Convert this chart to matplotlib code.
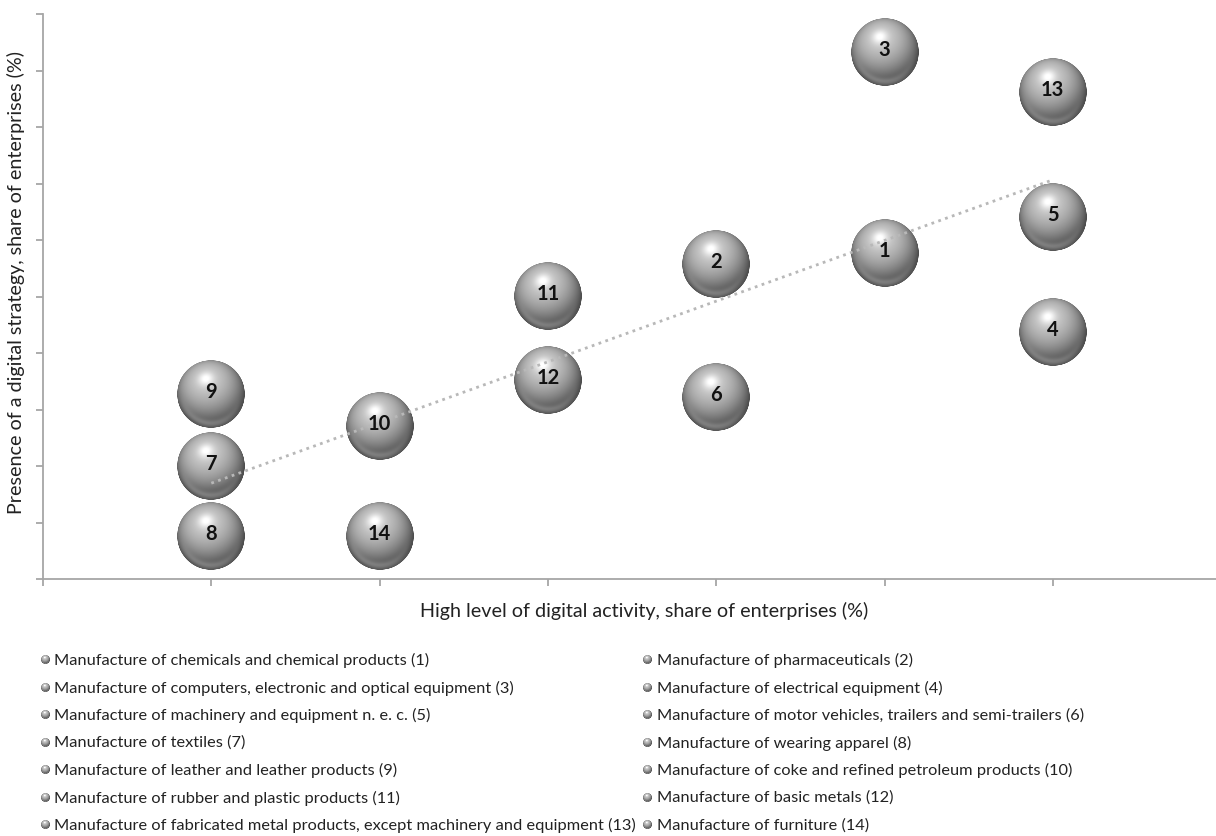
import numpy as np
import matplotlib
matplotlib.use("Agg")
import matplotlib.pyplot as plt
from matplotlib.offsetbox import OffsetImage, AnnotationBbox

plt.rcParams['font.family'] = ['Lato', 'DejaVu Sans']

# ---------------- data ----------------
ids = [1, 2, 3, 4, 5, 6, 7, 8, 9, 10, 11, 12, 13, 14]
digital_activity = [5, 4, 5, 6, 6, 4, 1, 1, 1, 2, 3, 3, 6, 2]
digital_strategy = [5.77, 5.58, 9.33, 4.37, 6.41, 3.22, 2.00, 0.76, 3.27, 2.71, 5.01, 3.52, 8.62, 0.76]
names = [
    "Manufacture of chemicals and chemical products (1)",
    "Manufacture of pharmaceuticals (2)",
    "Manufacture of computers, electronic and optical equipment (3)",
    "Manufacture of electrical equipment (4)",
    "Manufacture of machinery and equipment n. e. c. (5)",
    "Manufacture of motor vehicles, trailers and semi-trailers (6)",
    "Manufacture of textiles (7)",
    "Manufacture of wearing apparel (8)",
    "Manufacture of leather and leather products (9)",
    "Manufacture of coke and refined petroleum products (10)",
    "Manufacture of rubber and plastic products (11)",
    "Manufacture of basic metals (12)",
    "Manufacture of fabricated metal products, except machinery and equipment (13)",
    "Manufacture of furniture (14)",
]
x_label = "High level of digital activity, share of enterprises (%)"
y_label = "Presence of a digital strategy, share of enterprises (%)"


# ---------------- sphere image ----------------
def sphere_image(n=200):
    c = (np.arange(n) + 0.5) / n * 2 - 1
    u, v = np.meshgrid(c, -c)
    r2 = u ** 2 + v ** 2
    r = np.sqrt(r2)
    z = np.sqrt(np.clip(1 - r2, 0, 1))
    L = np.array([-0.15, 0.45, 0.88])
    L = L / np.linalg.norm(L)
    diff = np.clip(u * L[0] + v * L[1] + z * L[2], 0, 1)
    spec = diff ** 40
    g = 0.30 + 0.50 * diff ** 1.3 + 0.22 * spec
    # bottom reflection rim
    rim = np.exp(-((r - 0.86) / 0.10) ** 2) * np.clip(-v, 0, 1) ** 1.5
    g = g + 0.22 * rim
    g = np.clip(g, 0, 1)
    alpha = np.clip((1 - r) * n / 2.5, 0, 1)
    img = np.dstack([g, g, g, alpha])
    return img


SPH = sphere_image(200)

W, H, DPI = 1216, 837, 100
fig = plt.figure(figsize=(W / DPI, H / DPI), dpi=DPI)
fig.patch.set_facecolor('white')

ax = fig.add_axes([43 / W, (H - 580) / H, (W - 43) / W, (580 - 15) / H])
ax.set_xlim(0, (W - 43) / 168.3)
ax.set_ylim(0, 10)
ax.set_xticks(range(0, 7))
ax.set_yticks(range(0, 11))
ax.set_xticklabels([])
ax.set_yticklabels([])
for s in ['top', 'right']:
    ax.spines[s].set_visible(False)
for s in ['left', 'bottom']:
    ax.spines[s].set_color('#a6a6a6')
    ax.spines[s].set_linewidth(1.3)
ax.tick_params(axis='both', direction='out', length=5, width=1.3, color='#a6a6a6')

# bubbles
zoom = 68 / 200 * 72 / DPI
for i, x, y in zip(ids, digital_activity, digital_strategy):
    ab = AnnotationBbox(OffsetImage(SPH, zoom=zoom), (x, y), frameon=False,
                        pad=0, zorder=3)
    ax.add_artist(ab)
    ax.text(x, y + 0.05, str(i), ha='center', va='center', fontsize=14.5,
            fontweight='bold', color='#111111', zorder=6)

# linear trend
coef = np.polyfit(digital_activity, digital_strategy, 1)
xt = np.array([min(digital_activity), max(digital_activity)])
ax.plot(xt, np.polyval(coef, xt), linestyle=(0, (1, 1.6)), color='#b8b8b8',
        lw=2.0, zorder=5)

# axis titles
fig.text(644 / W, 1 - 611 / H, x_label, ha='center', va='center',
         fontsize=14.2, color='#222222')
fig.text(16 / W, 1 - 283 / H, y_label, ha='center', va='center',
         rotation=90, fontsize=14.2, color='#222222')

# legend (two columns: odd ids left, even ids right)
small_zoom = 9 / 200 * 72 / DPI
for k, name in enumerate(names):
    col = k % 2
    row = k // 2
    mx = 45 if col == 0 else 647
    tx = 54 if col == 0 else 657
    yy = 660.5 + 27.5 * row
    ab = AnnotationBbox(OffsetImage(SPH, zoom=small_zoom), (mx / W, 1 - yy / H),
                        xycoords='figure fraction', frameon=False, pad=0)
    fig.add_artist(ab)
    fig.text(tx / W, 1 - yy / H, name, ha='left', va='center', fontsize=11.8,
             color='#222222')

fig.savefig('out.png', dpi=DPI, facecolor='white')
